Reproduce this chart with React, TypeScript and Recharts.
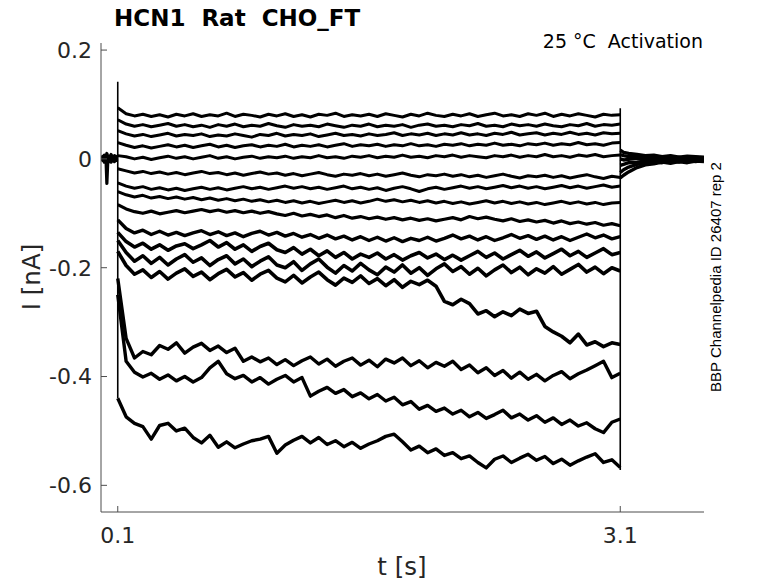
import React from 'react';
import { LineChart, Line, XAxis, YAxis } from 'recharts';

const W = 778;
const H = 583;
const AXIS = '#4d4d4d';
const TEXT = '#262626';

// time grid during the voltage step [s]
const T = [
  0.10, 0.15, 0.20, 0.25, 0.30, 0.35, 0.40, 0.45, 0.50, 0.55,
  0.60, 0.65, 0.70, 0.75, 0.80, 0.85, 0.90, 0.95, 1.00, 1.05,
  1.10, 1.15, 1.20, 1.25, 1.30, 1.35, 1.40, 1.45, 1.50, 1.55,
  1.60, 1.65, 1.70, 1.75, 1.80, 1.85, 1.90, 1.95, 2.00, 2.05,
  2.10, 2.15, 2.20, 2.25, 2.30, 2.35, 2.40, 2.45, 2.50, 2.55,
  2.60, 2.65, 2.70, 2.75, 2.80, 2.85, 2.90, 2.95, 3.00, 3.05,
  3.10,
];

// step currents [nA], top sweep first
const trace01 = [
  0.094, 0.083, 0.079, 0.082, 0.078, 0.081, 0.077, 0.082, 0.079, 0.083,
  0.078, 0.081, 0.079, 0.084, 0.078, 0.082, 0.080, 0.077, 0.082, 0.079,
  0.083, 0.078, 0.081, 0.077, 0.082, 0.080, 0.084, 0.078, 0.081, 0.079,
  0.082, 0.078, 0.083, 0.080, 0.077, 0.082, 0.079, 0.084, 0.080, 0.078,
  0.082, 0.079, 0.083, 0.078, 0.081, 0.084, 0.079, 0.081, 0.078, 0.083,
  0.080, 0.084, 0.078, 0.082, 0.079, 0.083, 0.080, 0.077, 0.082, 0.080,
  0.081,
];
const trace02 = [
  0.072, 0.064, 0.060, 0.063, 0.059, 0.062, 0.065, 0.060, 0.063, 0.059,
  0.062, 0.058, 0.063, 0.060, 0.064, 0.059, 0.062, 0.060, 0.065, 0.061,
  0.058, 0.063, 0.060, 0.062, 0.059, 0.064, 0.061, 0.058, 0.062, 0.060,
  0.064, 0.059, 0.062, 0.060, 0.063, 0.058, 0.062, 0.064, 0.060, 0.062,
  0.059, 0.063, 0.061, 0.065, 0.060, 0.062, 0.059, 0.064, 0.061, 0.063,
  0.060, 0.064, 0.061, 0.059, 0.063, 0.061, 0.065, 0.060, 0.063, 0.062,
  0.064,
];
const trace03 = [
  0.052, 0.046, 0.042, 0.045, 0.041, 0.044, 0.047, 0.042, 0.045, 0.043,
  0.046, 0.041, 0.044, 0.042, 0.046, 0.043, 0.040, 0.045, 0.043, 0.047,
  0.042, 0.045, 0.043, 0.046, 0.041, 0.044, 0.047, 0.043, 0.045, 0.042,
  0.046, 0.043, 0.045, 0.048, 0.043, 0.046, 0.044, 0.047, 0.043, 0.046,
  0.044, 0.048, 0.044, 0.046, 0.043, 0.047, 0.045, 0.049, 0.044, 0.046,
  0.048, 0.044, 0.047, 0.045, 0.049, 0.045, 0.047, 0.044, 0.048, 0.046,
  0.047,
];
const trace04 = [
  0.030, 0.025, 0.021, 0.024, 0.020, 0.023, 0.026, 0.022, 0.025, 0.021,
  0.024, 0.027, 0.022, 0.025, 0.021, 0.024, 0.026, 0.022, 0.025, 0.023,
  0.027, 0.022, 0.025, 0.023, 0.026, 0.022, 0.025, 0.028, 0.023, 0.026,
  0.024, 0.027, 0.023, 0.026, 0.024, 0.028, 0.024, 0.026, 0.023, 0.027,
  0.025, 0.028, 0.024, 0.027, 0.025, 0.029, 0.025, 0.027, 0.024, 0.028,
  0.026, 0.029, 0.025, 0.028, 0.026, 0.030, 0.026, 0.028, 0.025, 0.029,
  0.030,
];
const trace05 = [
  0.006, 0.004, 0.000, 0.003, -0.001, 0.002, 0.005, 0.001, 0.004, 0.000,
  0.003, 0.006, 0.001, 0.004, 0.000, 0.003, 0.005, 0.001, 0.004, 0.002,
  0.005, 0.001, 0.004, 0.002, 0.006, 0.002, 0.004, 0.001, 0.005, 0.003,
  0.006, 0.002, 0.005, 0.003, 0.007, 0.003, 0.005, 0.002, 0.006, 0.004,
  0.007, 0.003, 0.006, 0.004, 0.002, 0.006, 0.004, 0.007, 0.003, 0.006,
  0.004, 0.008, 0.004, 0.006, 0.003, 0.007, 0.005, 0.008, 0.004, 0.006,
  0.007,
];
const trace06 = [
  -0.018, -0.022, -0.026, -0.023, -0.027, -0.024, -0.028, -0.025, -0.029, -0.026,
  -0.023, -0.027, -0.025, -0.029, -0.026, -0.030, -0.027, -0.024, -0.028, -0.026,
  -0.030, -0.027, -0.031, -0.028, -0.025, -0.029, -0.032, -0.028, -0.030, -0.027,
  -0.031, -0.028, -0.032, -0.029, -0.026, -0.030, -0.033, -0.029, -0.031, -0.028,
  -0.032, -0.029, -0.033, -0.030, -0.034, -0.031, -0.028, -0.032, -0.035, -0.031,
  -0.033, -0.030, -0.034, -0.031, -0.035, -0.032, -0.029, -0.033, -0.036, -0.032,
  -0.034,
];
const trace07 = [
  -0.044, -0.050, -0.054, -0.051, -0.056, -0.053, -0.057, -0.054, -0.058, -0.055,
  -0.052, -0.056, -0.053, -0.057, -0.054, -0.051, -0.055, -0.052, -0.056, -0.053,
  -0.050, -0.054, -0.051, -0.055, -0.052, -0.056, -0.053, -0.050, -0.055, -0.052,
  -0.056, -0.053, -0.058, -0.054, -0.051, -0.055, -0.060, -0.055, -0.052, -0.056,
  -0.053, -0.050, -0.054, -0.051, -0.055, -0.052, -0.049, -0.053, -0.050, -0.054,
  -0.051, -0.055, -0.052, -0.049, -0.053, -0.050, -0.054, -0.051, -0.048, -0.052,
  -0.050,
];
const trace08 = [
  -0.060, -0.066, -0.070, -0.067, -0.072, -0.069, -0.073, -0.070, -0.074, -0.071,
  -0.075, -0.072, -0.076, -0.073, -0.077, -0.074, -0.078, -0.075, -0.079, -0.076,
  -0.080, -0.077, -0.081, -0.078, -0.082, -0.079, -0.076, -0.080, -0.077, -0.081,
  -0.078, -0.074, -0.078, -0.075, -0.079, -0.076, -0.080, -0.077, -0.081, -0.078,
  -0.082, -0.079, -0.083, -0.080, -0.077, -0.081, -0.078, -0.082, -0.079, -0.083,
  -0.080, -0.084, -0.081, -0.078, -0.082, -0.079, -0.083, -0.080, -0.084, -0.081,
  -0.080,
];
const trace09 = [
  -0.084, -0.092, -0.097, -0.100, -0.096, -0.101, -0.098, -0.095, -0.099, -0.096,
  -0.093, -0.097, -0.094, -0.098, -0.095, -0.099, -0.096, -0.100, -0.097, -0.101,
  -0.104, -0.100, -0.105, -0.102, -0.106, -0.103, -0.108, -0.104, -0.109, -0.106,
  -0.110, -0.107, -0.111, -0.108, -0.112, -0.109, -0.113, -0.110, -0.114, -0.111,
  -0.108, -0.112, -0.106, -0.110, -0.107, -0.111, -0.114, -0.110, -0.115, -0.112,
  -0.116, -0.113, -0.118, -0.114, -0.119, -0.116, -0.120, -0.117, -0.122, -0.119,
  -0.123,
];
const trace10 = [
  -0.112, -0.128, -0.136, -0.131, -0.139, -0.133, -0.140, -0.135, -0.141, -0.136,
  -0.132, -0.139, -0.134, -0.141, -0.136, -0.143, -0.137, -0.133, -0.140, -0.135,
  -0.142, -0.137, -0.144, -0.139, -0.146, -0.140, -0.147, -0.142, -0.149, -0.143,
  -0.150, -0.144, -0.151, -0.145, -0.152, -0.146, -0.150, -0.144, -0.151, -0.146,
  -0.140, -0.147, -0.142, -0.149, -0.143, -0.150, -0.145, -0.139, -0.146, -0.141,
  -0.148, -0.142, -0.149, -0.143, -0.150, -0.144, -0.138, -0.145, -0.140, -0.147,
  -0.143,
];
const trace11 = [
  -0.135, -0.152, -0.162, -0.155, -0.166, -0.158, -0.168, -0.160, -0.156, -0.165,
  -0.158, -0.150, -0.162, -0.154, -0.166, -0.158, -0.170, -0.161, -0.155, -0.167,
  -0.172, -0.163, -0.175, -0.166, -0.178, -0.169, -0.181, -0.172, -0.184, -0.175,
  -0.181, -0.173, -0.184, -0.176, -0.186, -0.178, -0.172, -0.182, -0.175, -0.185,
  -0.177, -0.186, -0.178, -0.170, -0.181, -0.173, -0.184, -0.176, -0.168, -0.179,
  -0.171, -0.182, -0.174, -0.166, -0.178, -0.170, -0.181, -0.173, -0.165, -0.176,
  -0.172,
];
const trace12 = [
  -0.150, -0.172, -0.188, -0.178, -0.192, -0.181, -0.195, -0.184, -0.176, -0.190,
  -0.182, -0.196, -0.185, -0.178, -0.193, -0.184, -0.198, -0.188, -0.180, -0.195,
  -0.200, -0.189, -0.205, -0.193, -0.184, -0.199, -0.210, -0.196, -0.206, -0.192,
  -0.204, -0.213, -0.199, -0.208, -0.195, -0.210, -0.200, -0.214, -0.202, -0.193,
  -0.207, -0.198, -0.212, -0.201, -0.215, -0.204, -0.195, -0.209, -0.199, -0.213,
  -0.202, -0.210, -0.198, -0.212, -0.203, -0.194, -0.208, -0.199, -0.211, -0.200,
  -0.206,
];
const trace13 = [
  -0.170, -0.196, -0.212, -0.204, -0.218, -0.207, -0.221, -0.210, -0.202, -0.216,
  -0.208, -0.222, -0.211, -0.203, -0.217, -0.209, -0.223, -0.212, -0.205, -0.219,
  -0.226, -0.214, -0.228, -0.217, -0.208, -0.222, -0.232, -0.219, -0.227, -0.215,
  -0.229, -0.220, -0.233, -0.222, -0.236, -0.225, -0.231, -0.223, -0.234, -0.262,
  -0.268, -0.258, -0.266, -0.285, -0.279, -0.290, -0.281, -0.288, -0.276, -0.284,
  -0.280, -0.308, -0.318, -0.326, -0.338, -0.322, -0.342, -0.336, -0.345, -0.338,
  -0.341,
];
const trace14 = [
  -0.220, -0.330, -0.366, -0.354, -0.360, -0.343, -0.350, -0.338, -0.357, -0.346,
  -0.339, -0.352, -0.344, -0.356, -0.348, -0.372, -0.364, -0.373, -0.366, -0.378,
  -0.369, -0.380, -0.371, -0.364, -0.377, -0.368, -0.381, -0.372, -0.366, -0.379,
  -0.370, -0.382, -0.368, -0.375, -0.366, -0.380, -0.371, -0.384, -0.374, -0.381,
  -0.372, -0.387, -0.379, -0.393, -0.384, -0.398, -0.389, -0.403, -0.392, -0.405,
  -0.396, -0.408, -0.398, -0.391, -0.404, -0.395, -0.388, -0.380, -0.372, -0.402,
  -0.394,
];
const trace15 = [
  -0.250, -0.372, -0.392, -0.401, -0.394, -0.405, -0.397, -0.408, -0.400, -0.410,
  -0.402, -0.384, -0.372, -0.395, -0.404, -0.398, -0.410, -0.402, -0.414, -0.405,
  -0.398, -0.410, -0.402, -0.436, -0.427, -0.420, -0.431, -0.424, -0.437, -0.430,
  -0.441, -0.433, -0.445, -0.438, -0.452, -0.446, -0.460, -0.453, -0.464, -0.458,
  -0.469, -0.462, -0.474, -0.466, -0.477, -0.470, -0.462, -0.476, -0.469, -0.480,
  -0.472, -0.484, -0.476, -0.488, -0.480, -0.491, -0.485, -0.496, -0.503, -0.484,
  -0.478,
];
const trace16 = [
  -0.440, -0.474, -0.486, -0.492, -0.515, -0.490, -0.486, -0.500, -0.495, -0.512,
  -0.522, -0.508, -0.530, -0.520, -0.531, -0.524, -0.518, -0.515, -0.510, -0.541,
  -0.526, -0.517, -0.510, -0.522, -0.512, -0.525, -0.518, -0.529, -0.521, -0.532,
  -0.524, -0.518, -0.510, -0.506, -0.520, -0.535, -0.528, -0.540, -0.533, -0.545,
  -0.540, -0.551, -0.546, -0.558, -0.568, -0.552, -0.546, -0.558, -0.550, -0.543,
  -0.554, -0.547, -0.560, -0.552, -0.563, -0.555, -0.548, -0.542, -0.558, -0.553,
  -0.567,
];

// holding period before the step
const PRE_T = [0, 0.01, 0.02, 0.03, 0.035, 0.04, 0.05, 0.06, 0.07, 0.08, 0.09, 0.1];
const preHigh = [0.006, 0.002, 0.007, 0.004, 0.010, 0.005, 0.003, 0.008, 0.002, 0.006, 0.004, 0.005];
const preMid = [0.001, -0.002, 0.003, -0.001, 0.004, 0.000, -0.002, 0.002, -0.003, 0.001, -0.001, 0.000];
const preLow = [-0.004, 0.000, -0.006, -0.002, -0.045, -0.008, -0.003, -0.006, 0.000, -0.005, -0.002, -0.003];

// tail currents after the step
const TAIL_T = [3.1, 3.12, 3.15, 3.2, 3.25, 3.3, 3.35, 3.4, 3.45, 3.5, 3.55, 3.6];
const tail1 = [0.016, 0.012, 0.010, 0.008, 0.006, 0.007, 0.004, 0.006, 0.003, 0.005, 0.004, 0.003];
const tail2 = [0.008, 0.006, 0.004, 0.005, 0.003, 0.002, 0.004, 0.001, 0.003, 0.000, 0.002, 0.001];
const tail3 = [0.000, -0.002, -0.001, 0.001, -0.002, -0.001, 0.000, -0.003, -0.001, -0.002, 0.000, -0.002];
const tail4 = [-0.012, -0.010, -0.007, -0.006, -0.004, -0.006, -0.003, -0.005, -0.002, -0.004, -0.001, -0.003];
const tail5 = [-0.025, -0.020, -0.015, -0.010, -0.008, -0.005, -0.007, -0.004, -0.006, -0.003, -0.005, -0.002];
const tail6 = [-0.035, -0.030, -0.024, -0.016, -0.011, -0.009, -0.006, -0.008, -0.005, -0.007, -0.004, -0.005];

// capacitive edges at step on/off
const ON_T = [0.1, 0.1];
const onEdge = [0.142, -0.44];
const OFF_T = [3.1, 3.1];
const offEdge = [0.093, -0.572];

const X_TICKS = [0.1, 3.1];
const Y_TICKS = [-0.6, -0.4, -0.2, 0, 0.2];

const toPoints = (ts: number[], vs: number[]) =>
  vs.map((v, k) => ({ t: ts[k], i: v })).filter((p) => p.t !== undefined);

const STEP = [
  trace01, trace02, trace03, trace04, trace05, trace06, trace07, trace08,
  trace09, trace10, trace11, trace12, trace13, trace14, trace15, trace16,
];
// noisier sweeps get a heavier stroke, like the denser noise band in the recording
const STEP_WIDTH = [3, 3, 3, 3, 3, 3, 3, 3, 3.2, 3.4, 3.6, 3.6, 3.6, 3.4, 3.4, 3.4];

const series = [
  ...STEP.map((v, k) => ({ pts: toPoints(T, v), w: STEP_WIDTH[k] })),
  ...[preHigh, preMid, preLow].map((v) => ({ pts: toPoints(PRE_T, v), w: 3.2 })),
  ...[tail1, tail2, tail3, tail4, tail5, tail6].map((v) => ({ pts: toPoints(TAIL_T, v), w: 3.4 })),
  { pts: toPoints(ON_T, onEdge), w: 1.6 },
  { pts: toPoints(OFF_T, offEdge), w: 1.6 },
];

export default function App() {
  return (
    <div style={{ position: 'absolute', left: 0, top: 0, width: W, height: H, background: '#fff' }}>
      <LineChart width={W} height={H} margin={{ top: 43, right: 74, bottom: 0, left: 0 }}>
        <XAxis
          dataKey="t"
          type="number"
          domain={[0, 3.6]}
          ticks={X_TICKS}
          interval={0}
          allowDataOverflow
          height={71}
          tickSize={-6}
          tickMargin={21}
          axisLine={{ stroke: AXIS }}
          tickLine={{ stroke: AXIS }}
          tick={{ fill: TEXT, fontSize: 22, fontFamily: 'DejaVu Sans' }}
        />
        <YAxis
          type="number"
          domain={[-0.649, 0.213]}
          ticks={Y_TICKS}
          interval={0}
          allowDataOverflow
          width={101}
          tickSize={-6}
          tickMargin={15}
          axisLine={{ stroke: AXIS }}
          tickLine={{ stroke: AXIS }}
          tick={{ fill: TEXT, fontSize: 22, fontFamily: 'DejaVu Sans' }}
        />
        {series.map((s, k) => (
          <Line
            key={k}
            name={`s${k}`}
            data={s.pts}
            dataKey="i"
            type="linear"
            stroke="#000"
            strokeWidth={s.w}
            strokeLinejoin="round"
            dot={false}
            activeDot={false}
            isAnimationActive={false}
          />
        ))}
      </LineChart>

      <svg
        width={W}
        height={H}
        style={{ position: 'absolute', left: 0, top: 0, pointerEvents: 'none' }}
      >
        <text
          x={114}
          y={26}
          fontFamily="DejaVu Sans"
          fontWeight="bold"
          fontSize={23}
          fill="#000"
          xmlSpace="preserve"
          style={{ whiteSpace: 'pre' }}
        >
          {'HCN1  Rat  CHO_FT'}
        </text>
        <text
          x={703}
          y={48}
          textAnchor="end"
          fontFamily="DejaVu Sans"
          fontSize={19}
          fill="#000"
          xmlSpace="preserve"
          style={{ whiteSpace: 'pre' }}
        >
          {'25 °C  Activation'}
        </text>
        <text
          x={721}
          y={277}
          transform="rotate(-90 721 277)"
          textAnchor="middle"
          fontFamily="Liberation Sans"
          fontSize={15}
          fill="#000"
        >
          BBP Channelpedia ID 26407 rep 2
        </text>
        <text x={402} y={575} textAnchor="middle" fontFamily="DejaVu Sans" fontSize={24.5} fill={TEXT}>
          t [s]
        </text>
        <text
          x={40}
          y={277}
          transform="rotate(-90 40 277)"
          textAnchor="middle"
          fontFamily="DejaVu Sans"
          fontSize={24.5}
          fill={TEXT}
        >
          I [nA]
        </text>
      </svg>
    </div>
  );
}
